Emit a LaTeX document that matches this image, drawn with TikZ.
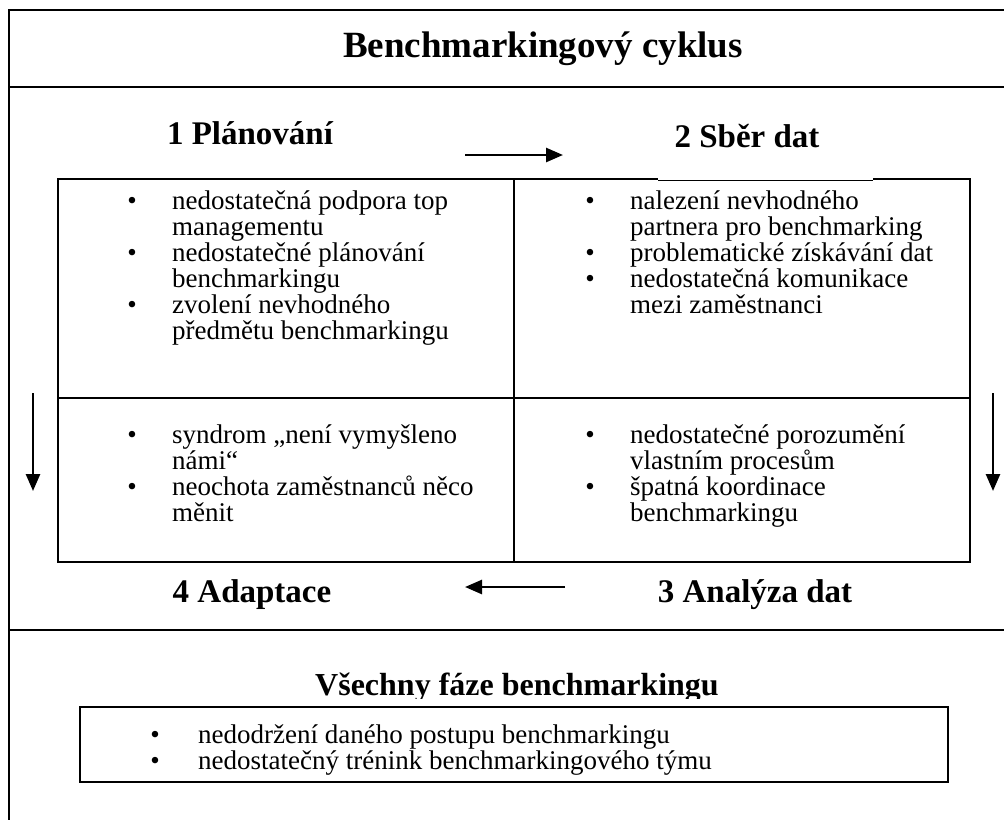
\documentclass[tikz,border=0pt]{standalone}
\usepackage{fontspec}
\setmainfont{Liberation Serif}
\usetikzlibrary{arrows.meta}
\begin{document}
\begin{tikzpicture}[x=1pt,y=-1pt,
  frame/.style={line width=1.4pt},
  gridline/.style={line width=1.7pt},
  thinline/.style={line width=1.2pt},
  txt/.style={inner sep=0pt, anchor=base west, font=\fontsize{27}{26}\selectfont},
  bul/.style={inner sep=0pt, anchor=base, font=\fontsize{27}{26}\selectfont},
  head/.style={inner sep=0pt, anchor=base, font=\fontsize{33}{38}\selectfont\bfseries},
  arr/.style={line width=2.6pt, -{Triangle[length=17pt,width=14pt]}}
]
\fill[white] (0,0) rectangle (1004,820);
\useasboundingbox (0,0) rectangle (1004,820);

% outer frame
\draw[frame] (1004,10) -- (9,10) -- (9,820);
\draw[frame] (9,87) -- (1004,87);
\draw[frame] (9,630) -- (1004,630);

% title
\node[inner sep=0pt, anchor=base, font=\fontsize{37}{42}\selectfont\bfseries] (title) at (543,57) {Benchmarkingový cyklus};

% headings
\node[head] (h1) at (250,144) {1 Plánování};
\node[head] (h2) at (747,147) {2 Sběr dat};
\node[head] (h4) at (252,602) {4 Adaptace};
\node[head] (h3) at (755,602) {3 Analýza dat};

% arrows
\coordinate (t1) at (465,155); \coordinate (t2) at (563,155);
\draw[arr] (t1) -- (t2);
\coordinate (b1) at (565,587); \coordinate (b2) at (465,587);
\draw[arr] (b1) -- (b2);
\coordinate (l1) at (33,393); \coordinate (l2) at (33,491);
\draw[arr] (l1) -- (l2);
\coordinate (r1) at (993,393); \coordinate (r2) at (993,491);
\draw[arr] (r1) -- (r2);

% grid
\draw[gridline] (58,179) rectangle (970,562);
\draw[white, line width=2pt] (658,179) -- (873,179);
\draw[line width=1pt] (658,180) -- (873,180);
\draw[thinline] (514,179) -- (514,562);
\draw[gridline] (58,398) -- (970,398);

% top-left cell
\node[bul] (tlb1) at (132,209) {•};
\node[txt] (tl1) at (172,209) {\vtop{\hbox{nedostatečná podpora top}\hbox{managementu}}};
\node[bul] (tlb2) at (132,261) {•};
\node[txt] (tl2) at (172,261) {\vtop{\hbox{nedostatečné plánování}\hbox{benchmarkingu}}};
\node[bul] (tlb3) at (132,313) {•};
\node[txt] (tl3) at (172,313) {\vtop{\hbox{zvolení nevhodného}\hbox{předmětu benchmarkingu}}};

% top-right cell
\node[bul] (trb1) at (590,209) {•};
\node[txt] (tr1) at (630,209) {\vtop{\hbox{nalezení nevhodného}\hbox{partnera pro benchmarking}}};
\node[bul] (trb2) at (590,261) {•};
\node[txt] (tr2) at (630,261) {problematické získávání dat};
\node[bul] (trb3) at (590,287) {•};
\node[txt] (tr3) at (630,287) {\vtop{\hbox{nedostatečná komunikace}\hbox{mezi zaměstnanci}}};

% bottom-left cell
\node[bul] (blb1) at (132,443) {•};
\node[txt] (bl1) at (172,443) {\vtop{\hbox{syndrom „není vymyšleno}\hbox{námi“}}};
\node[bul] (blb2) at (132,495) {•};
\node[txt] (bl2) at (172,495) {\vtop{\hbox{neochota zaměstnanců něco}\hbox{měnit}}};

% bottom-right cell
\node[bul] (brb1) at (590,443) {•};
\node[txt] (br1) at (630,443) {\vtop{\hbox{nedostatečné porozumění}\hbox{vlastním procesům}}};
\node[bul] (brb2) at (590,495) {•};
\node[txt] (br2) at (630,495) {\vtop{\hbox{špatná koordinace}\hbox{benchmarkingu}}};

% all phases
\node[head, font=\fontsize{32}{38}\selectfont\bfseries] (hall) at (517,695) {Všechny fáze benchmarkingu};
\fill[white] (60,699) rectangle (965,707);
\draw[gridline] (80,707) rectangle (948,782);
\node[bul] (allb1) at (155,743) {•};
\node[txt] (all1) at (198,743) {nedodržení daného postupu benchmarkingu};
\node[bul] (allb2) at (155,769) {•};
\node[txt] (all2) at (198,769) {nedostatečný trénink benchmarkingového týmu};
\end{tikzpicture}
\end{document}
